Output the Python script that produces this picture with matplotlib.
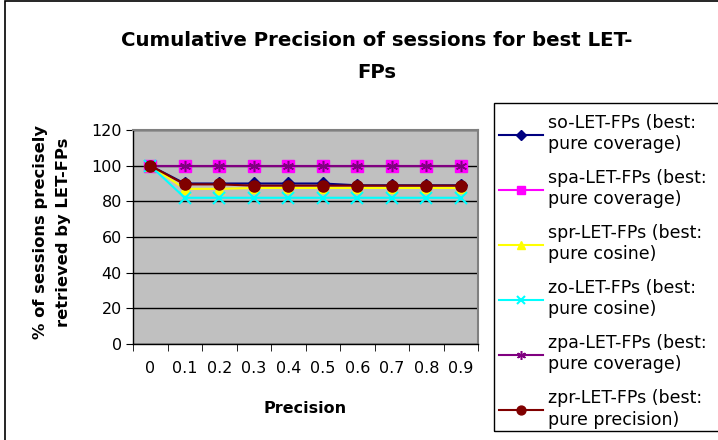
import numpy as np
import matplotlib.pyplot as plt
from matplotlib.patches import Rectangle

plt.rcParams['font.family'] = ['DejaVu Sans']

precision = ['0', '0.1', '0.2', '0.3', '0.4', '0.5', '0.6', '0.7', '0.8', '0.9']

so_let = [100, 90, 90, 90, 90, 90, 89, 89, 89, 89]
spa_let = [100, 100, 100, 100, 100, 100, 100, 100, 100, 100]
spr_let = [100, 87, 87, 87.5, 87.5, 87.5, 87.5, 87.5, 87.5, 87.5]
zo_let = [100, 82, 82, 82, 82, 82, 82, 82, 82, 82]
zpa_let = [100, 100, 100, 100, 100, 100, 100, 100, 100, 100]
zpr_let = [100, 89.5, 89.5, 88.8, 88.8, 88.8, 88.8, 88.8, 88.8, 88.8]

labels = ['so-LET-FPs (best:\npure coverage)',
          'spa-LET-FPs (best:\npure coverage)',
          'spr-LET-FPs (best:\npure cosine)',
          'zo-LET-FPs (best:\npure cosine)',
          'zpa-LET-FPs (best:\npure coverage)',
          'zpr-LET-FPs (best:\npure precision)']

W, H = 718, 440
fig = plt.figure(figsize=(W / 100, H / 100), dpi=100)

# outer chart border (runs off the right and bottom edges)
fig.patches.append(Rectangle((5 / W, -0.1), 1.2, 1 - 1.5 / H + 0.1,
                             transform=fig.transFigure, fill=False,
                             edgecolor='black', linewidth=1.2))
# legend box, also cut off on the right
fig.patches.append(Rectangle((494 / W, 1 - 431 / H), 240 / W, 328 / H,
                             transform=fig.transFigure, fill=False,
                             edgecolor='black', linewidth=1))

ax = fig.add_axes([133 / W, 1 - 344 / H, 345 / W, 214 / H])
ax.set_facecolor('#c0c0c0')

x = np.arange(len(precision))
series = [
    (so_let, '#000080', dict(marker='D', markersize=6)),
    (spa_let, '#ff00ff', dict(marker='s', markersize=8)),
    (spr_let, '#ffff00', dict(marker='^', markersize=7)),
    (zo_let, '#00ffff', dict(marker='x', markersize=8, markeredgewidth=1.5)),
    (zpa_let, '#800080', dict(marker=(6, 2, 0), markersize=8, markeredgewidth=1.1)),
    (zpr_let, '#800000', dict(marker='o', markersize=8)),
]
handles = []
for vals, col, mk in series:
    h, = ax.plot(x, vals, color=col, linewidth=1.5, markerfacecolor=col,
                 markeredgecolor=col, zorder=3, **mk)
    handles.append(h)

ax.set_xlim(-0.5, len(precision) - 0.5)
ax.set_ylim(0, 120)
ax.set_yticks(range(0, 121, 20))
ax.yaxis.grid(True, color='black', linewidth=1)
ax.set_axisbelow(True)

ax.set_xticks(x)
ax.set_xticklabels(precision)
ax.set_xticks(np.arange(-0.5, len(precision), 1), minor=True)
ax.tick_params(axis='x', which='major', length=0, pad=12, labelsize=11.5)
ax.tick_params(axis='x', which='minor', length=5, direction='out')
ax.tick_params(axis='y', length=5, direction='out', labelsize=11.5, pad=3)

for s in ['top', 'right']:
    ax.spines[s].set_color('#808080')
    ax.spines[s].set_linewidth(1.5)
for s in ['left', 'bottom']:
    ax.spines[s].set_color('black')
    ax.spines[s].set_linewidth(1)

ax.set_xlabel('Precision', fontsize=11.5, fontweight='bold', labelpad=18)
fig.text(52 / W, 1 - 232 / H, '% of sessions precisely\nretrieved by LET-FPs',
         rotation=90, ha='center', va='center', ma='center', fontsize=11.8,
         fontweight='bold', linespacing=1.7)

fig.text(377 / W, 1 - 40 / H, 'Cumulative Precision of sessions for best LET-',
         ha='center', va='center', fontsize=14.2, fontweight='bold')
fig.text(377 / W, 1 - 72 / H, 'FPs', ha='center', va='center',
         fontsize=14.2, fontweight='bold')

leg = fig.legend(handles, labels, loc='upper left',
                 bbox_to_anchor=(494 / W, 1 - 109 / H),
                 bbox_transform=fig.transFigure, fontsize=12.5,
                 frameon=False, handlelength=2.5, handletextpad=0.3,
                 labelspacing=0.92, borderaxespad=0, borderpad=0.3,
                 markerscale=0.8)
for t in leg.get_texts():
    t.set_linespacing(1.22)

fig.savefig('out.png', dpi=100)
